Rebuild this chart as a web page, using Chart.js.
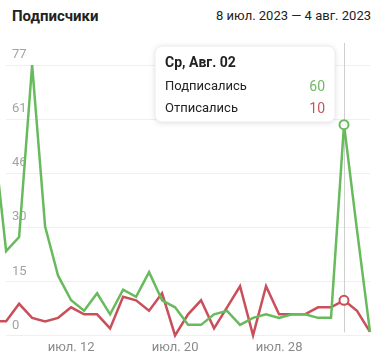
<!DOCTYPE html>
<html>
<head>
<meta charset="utf-8">
<script src="https://cdn.jsdelivr.net/npm/chart.js@4"></script>
<style>
body { margin: 0; background: #fff; font-family: Roboto, sans-serif; }
#head { position: relative; height: 40px; }
#title { position: absolute; left: 12px; top: 7px; font-size: 15px; font-weight: bold; color: #222; }
#range { position: absolute; right: 17px; top: 8px; font-size: 13px; color: #222; }
#box { position: relative; width: 388px; height: 322px; }
</style>
</head>
<body>
<div id="head"><div id="title">Подписчики</div><div id="range">8 июл. 2023 — 4 авг. 2023</div></div>
<div id="box"><canvas id="myChart"></canvas></div>
<script>
// дни (первые два видны только частично, слева)
var dates = ['07-06','07-07','07-08','07-09','07-10','07-11','07-12','07-13','07-14','07-15',
             '07-16','07-17','07-18','07-19','07-20','07-21','07-22','07-23','07-24','07-25',
             '07-26','07-27','07-28','07-29','07-30','07-31','08-01','08-02','08-03','08-04'];
var subscribed   = [58,24,28,77,31,17,10,7,12,6,13,11,18,10,8,3,3,6,7,3,5,6,5,6,6,5,5,60,30,1];
var unsubscribed = [4,4,9,5,4,5,8,6,6,2,11,10,7,12,0,6,10,2,8,14,0,14,6,6,6,8,8,10,7,1];
var tickDates  = ['07-12','07-20','07-28'];
var tickLabels = ['июл. 12','июл. 20','июл. 28'];
var yMax = 77;
var activeDate = '08-02';
var activeTitle = 'Ср, Авг. 02';
var seriesNames = ['Подписались','Отписались'];

var green = '#68bb5c';
var red = '#c9505a';
var activeIdx = dates.indexOf(activeDate);

function toPoints(arr) {
    var pts = [];
    for (var i = 0; i < arr.length; i++) pts.push({x: i, y: arr[i]});
    return pts;
}

var tipPlugin = {
    id: 'tip',
    beforeDatasetsDraw: function(chart) {
        var ctx = chart.ctx;
        var x = chart.scales.x.getPixelForValue(activeIdx);
        ctx.save();
        ctx.strokeStyle = '#cfcfcf';
        ctx.lineWidth = 1;
        ctx.beginPath();
        ctx.moveTo(Math.round(x) + 0.5, chart.chartArea.top - 22);
        ctx.lineTo(Math.round(x) + 0.5, chart.chartArea.bottom - 3);
        ctx.stroke();
        ctx.restore();
    },
    afterDraw: function(chart) {
        var ctx = chart.ctx;
        var x = chart.scales.x.getPixelForValue(activeIdx);
        var w = 180, h = 76;
        var right = x - 9, left = right - w, top = chart.chartArea.top - 19;
        ctx.save();
        ctx.shadowColor = 'rgba(0,0,0,0.13)';
        ctx.shadowBlur = 6;
        ctx.shadowOffsetY = 1;
        ctx.fillStyle = '#fff';
        ctx.beginPath();
        ctx.roundRect(left, top, w, h, 7);
        ctx.fill();
        ctx.shadowColor = 'transparent';
        ctx.strokeStyle = '#ececec';
        ctx.lineWidth = 1;
        ctx.stroke();
        ctx.textBaseline = 'middle';
        ctx.fillStyle = '#222';
        ctx.font = 'bold 14px Roboto';
        ctx.textAlign = 'left';
        ctx.fillText(activeTitle, left + 10, top + 17);
        ctx.font = '13px Roboto';
        ctx.fillText(seriesNames[0], left + 10, top + 41);
        ctx.fillText(seriesNames[1], left + 10, top + 63);
        ctx.textAlign = 'right';
        ctx.font = '14px Roboto';
        ctx.fillStyle = '#72b866';
        ctx.fillText(String(subscribed[activeIdx]), right - 10, top + 41);
        ctx.fillStyle = '#c4555e';
        ctx.fillText(String(unsubscribed[activeIdx]), right - 10, top + 63);
        ctx.restore();
    }
};

var ctx = document.getElementById('myChart');
var myChart = new Chart(ctx, {
    type: 'line',
    data: {
        datasets: [{
            label: seriesNames[0],
            data: toPoints(subscribed),
            borderColor: green,
            borderWidth: 2.5,
            tension: 0,
            clip: false,
            pointRadius: function(c) { return c.dataIndex === activeIdx ? 4.5 : 0; },
            pointBorderWidth: 2,
            pointBackgroundColor: '#fff',
            pointBorderColor: green
        }, {
            label: seriesNames[1],
            data: toPoints(unsubscribed),
            borderColor: red,
            borderWidth: 2.5,
            tension: 0,
            clip: false,
            pointRadius: function(c) { return c.dataIndex === activeIdx ? 4.5 : 0; },
            pointBorderWidth: 2,
            pointBackgroundColor: '#fff',
            pointBorderColor: red
        }]
    },
    options: {
        responsive: true,
        maintainAspectRatio: false,
        animation: false,
        events: [],
        layout: { padding: { left: 6, right: 18, top: 25, bottom: 9 } },
        plugins: { legend: { display: false }, tooltip: { enabled: false } },
        scales: {
            x: {
                type: 'linear',
                min: 0.99,
                max: dates.length - 1,
                grid: { display: false },
                border: { display: false },
                afterBuildTicks: function(axis) {
                    axis.ticks = tickDates.map(function(d) { return {value: dates.indexOf(d)}; });
                },
                ticks: {
                    color: '#8a8a8a',
                    font: { family: 'Roboto', size: 13 },
                    padding: -3,
                    maxRotation: 0,
                    callback: function(v) { return tickLabels[tickDates.indexOf(dates[v])]; }
                }
            },
            y: {
                min: 0,
                max: yMax,
                grid: { color: '#efefef', drawTicks: false },
                border: { display: false },
                afterFit: function(axis) { axis.width = 0; },
                afterBuildTicks: function(axis) {
                    var t = [];
                    for (var i = 0; i <= 5; i++) t.push({value: yMax * i / 5});
                    axis.ticks = t;
                },
                ticks: {
                    mirror: true,
                    padding: 6,
                    labelOffset: -10,
                    color: '#a3a3a3',
                    font: { family: 'Roboto', size: 13 },
                    callback: function(v) { return Math.floor(v + 1e-9); }
                }
            }
        }
    },
    plugins: [tipPlugin]
});
</script>
</body>
</html>
